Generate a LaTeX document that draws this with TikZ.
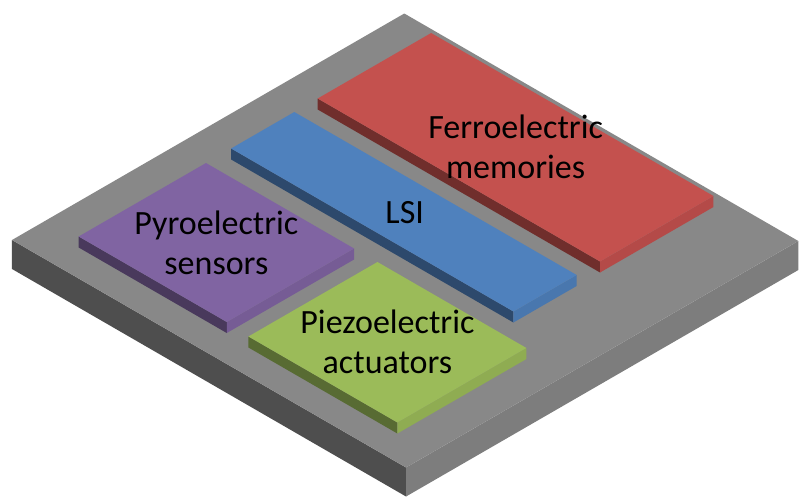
\documentclass[tikz,border=0pt]{standalone}
\usepackage{fontspec}
\setmainfont{Carlito}

\definecolor{slabgray}{HTML}{888888}
\definecolor{pyrocol}{HTML}{8064A2}
\definecolor{lsicol}{HTML}{4F81BD}
\definecolor{ferrocol}{HTML}{C4514E}
\definecolor{piezocol}{HTML}{9BBB59}

\tikzset{
  blocklabel/.style={align=center, inner sep=0pt, text=black,
    font=\fontsize{25.5}{30}\selectfont},
}

% isometric box: u from #1 to #2, v from #3 to #4, z from #5 to #6, colour #7
\newcommand{\isobox}[7]{%
  \fill[#7!57!black] (#1,#3,#5) -- (#2,#3,#5) -- (#2,#3,#6) -- (#1,#3,#6) -- cycle;
  \fill[#7!92!black] (#2,#3,#5) -- (#2,#4,#5) -- (#2,#4,#6) -- (#2,#3,#6) -- cycle;
  \fill[#7] (#1,#3,#6) -- (#2,#3,#6) -- (#2,#4,#6) -- (#1,#4,#6) -- cycle;
}

\begin{document}
\begin{tikzpicture}[x={(0.6495pt,-0.375pt)}, y={(0.6495pt,0.375pt)}, z={(0pt,0.75pt)}]
  \useasboundingbox (-9pt,-192.75pt) rectangle (590.25pt,180pt);

  % substrate
  \isobox{0}{455}{0}{453}{-29}{0}{slabgray}

  % devices on the chip, back to front
  \isobox{46}{372}{307}{438}{0}{11}{ferrocol}
  \isobox{46}{372}{207}{280}{0}{11}{lsicol}
  \isobox{46}{217}{31}{178}{0}{11}{pyrocol}
  \isobox{244}{416}{29}{178}{0}{11}{piezocol}

  \coordinate (ferro) at (209,372.5,11);
  \coordinate (lsi) at (210,243.5,11);
  \coordinate (pyro) at (131.5,104.5,11);
  \coordinate (piezo) at (330,103.5,11);

  \node[blocklabel] (ferrotext) at (ferro) {Ferroelectric\\memories};
  \node[blocklabel] (lsitext) at (lsi) {LSI};
  \node[blocklabel] (pyrotext) at (pyro) {Pyroelectric\\sensors};
  \node[blocklabel] (piezotext) at (piezo) {Piezoelectric\\actuators};
\end{tikzpicture}
\end{document}
